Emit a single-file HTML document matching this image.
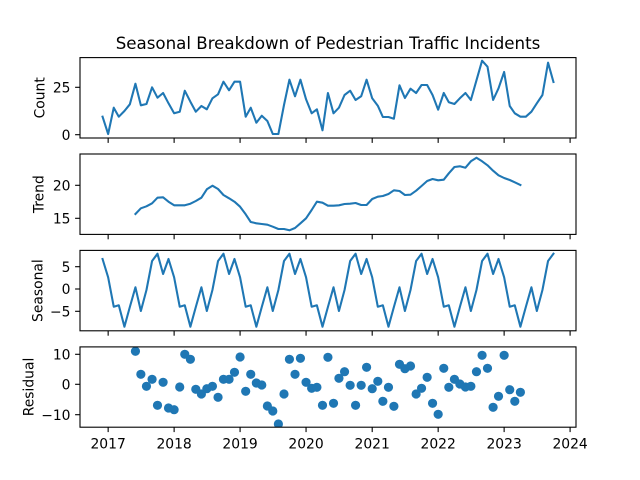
<!DOCTYPE html>
<html><head><meta charset="utf-8"><style>
html,body{margin:0;padding:0;background:#fff;}
svg{display:block;}
text{font-family:"DejaVu Sans","Liberation Sans",sans-serif;fill:#000;}
</style></head><body>
<svg width="640" height="480" viewBox="0 0 640 480" xmlns="http://www.w3.org/2000/svg">
<defs><clipPath id="c4"><rect x="80" y="346.9" width="496" height="80.3"/></clipPath></defs>
<rect width="640" height="480" fill="#fff"/>
<text x="328" y="49" font-size="16.67" text-anchor="middle">Seasonal Breakdown of Pedestrian Traffic Incidents</text>

<!-- Panel 1 -->
<polyline fill="none" stroke="#1f77b4" stroke-width="2.08" stroke-linejoin="round" stroke-linecap="square" points="102.55,116.7 108.15,134.0 113.75,107.7 118.81,116.7 124.42,111.0 129.84,104.3 135.44,83.7 140.86,105.3 146.46,104.0 152.07,87.3 157.49,97.7 163.09,93.0 168.51,103.3 174.12,113.3 179.72,111.7 184.78,90.7 190.39,101.7 195.81,111.7 201.41,106.0 206.83,109.3 212.43,98.3 218.04,94.3 223.46,81.7 229.06,90.3 234.48,81.7 240.08,81.7 245.68,116.7 250.74,107.7 256.35,122.7 261.77,115.7 267.37,121.0 272.79,134.0 278.39,134.0 284.00,105.0 289.42,79.7 295.02,96.3 300.44,79.7 306.05,99.3 311.65,113.3 316.89,109.3 322.50,130.3 327.92,93.0 333.52,113.3 338.94,107.7 344.54,95.0 350.15,90.7 355.57,100.0 361.17,96.3 366.59,79.7 372.20,98.3 377.80,105.7 382.86,117.0 388.47,117.0 393.89,118.7 399.49,85.3 404.91,98.0 410.51,88.7 416.12,93.0 421.54,85.0 427.14,85.0 432.56,95.0 438.16,109.7 443.76,93.0 448.82,102.3 454.43,104.0 459.85,98.3 465.45,93.0 470.87,100.0 476.47,80.3 482.08,60.7 487.50,66.7 493.10,100.0 498.52,88.3 504.13,72.0 509.73,106.0 514.79,113.3 520.40,116.7 525.82,116.7 531.42,111.7 536.84,103.3 542.44,95.0 548.05,62.7 553.47,82.0"/>
<rect x="80" y="57.6" width="496" height="80.4" fill="none" stroke="#000" stroke-width="1.1"/>
<g stroke="#000" stroke-width="1.1">
<line x1="75.1" y1="134.7" x2="80" y2="134.7"/><line x1="75.1" y1="87.3" x2="80" y2="87.3"/>
<line x1="108.15" y1="138" x2="108.15" y2="142.9"/><line x1="174.12" y1="138" x2="174.12" y2="142.9"/><line x1="240.08" y1="138" x2="240.08" y2="142.9"/><line x1="306.05" y1="138" x2="306.05" y2="142.9"/><line x1="372.2" y1="138" x2="372.2" y2="142.9"/><line x1="438.16" y1="138" x2="438.16" y2="142.9"/><line x1="504.13" y1="138" x2="504.13" y2="142.9"/><line x1="570.1" y1="138" x2="570.1" y2="142.9"/>
</g>
<g font-size="13.89" text-anchor="end">
<text x="70.5" y="139.8">0</text><text x="70.5" y="92.4">25</text>
</g>
<text transform="translate(44.5,97.8) rotate(-90)" font-size="13.89" text-anchor="middle">Count</text>

<!-- Panel 2 -->
<polyline fill="none" stroke="#1f77b4" stroke-width="2.08" stroke-linejoin="round" stroke-linecap="square" points="135.44,214.0 140.86,208.3 146.46,206.3 152.07,203.3 157.49,197.7 163.09,197.3 168.51,201.7 174.12,205.3 179.72,205.3 184.78,205.3 190.39,203.7 195.81,201.0 201.41,197.7 206.83,189.3 212.43,185.7 218.04,189.0 223.46,195.0 229.06,198.3 234.48,201.7 240.08,206.7 245.68,214.3 250.74,222.0 256.35,223.3 261.77,224.0 267.37,224.7 272.79,226.7 278.39,229.0 284.00,229.0 289.42,230.3 295.02,228.0 300.44,223.3 306.05,218.3 311.65,210.0 316.89,201.7 322.50,202.7 327.92,205.7 333.52,205.7 338.94,205.3 344.54,204.0 350.15,203.7 355.57,203.0 361.17,205.0 366.59,205.0 372.20,199.0 377.80,196.7 382.86,196.0 388.47,194.0 393.89,190.3 399.49,191.0 404.91,195.0 410.51,194.7 416.12,190.7 421.54,186.0 427.14,181.0 432.56,179.0 438.16,180.3 443.76,179.7 448.82,173.3 454.43,167.0 459.85,166.3 465.45,167.7 470.87,161.3 476.47,157.7 482.08,161.3 487.50,165.3 493.10,170.7 498.52,175.3 504.13,178.0 509.73,180.0 514.79,182.3 520.40,185.0"/>
<rect x="80" y="154.0" width="496" height="80.4" fill="none" stroke="#000" stroke-width="1.1"/>
<g stroke="#000" stroke-width="1.1">
<line x1="75.1" y1="185.3" x2="80" y2="185.3"/><line x1="75.1" y1="218.3" x2="80" y2="218.3"/>
<line x1="108.15" y1="234.4" x2="108.15" y2="239.3"/><line x1="174.12" y1="234.4" x2="174.12" y2="239.3"/><line x1="240.08" y1="234.4" x2="240.08" y2="239.3"/><line x1="306.05" y1="234.4" x2="306.05" y2="239.3"/><line x1="372.2" y1="234.4" x2="372.2" y2="239.3"/><line x1="438.16" y1="234.4" x2="438.16" y2="239.3"/><line x1="504.13" y1="234.4" x2="504.13" y2="239.3"/><line x1="570.1" y1="234.4" x2="570.1" y2="239.3"/>
</g>
<g font-size="13.89" text-anchor="end">
<text x="70.5" y="190.4">20</text><text x="70.5" y="223.4">15</text>
</g>
<text transform="translate(43.5,194.2) rotate(-90)" font-size="13.89" text-anchor="middle">Trend</text>

<!-- Panel 3 -->
<polyline fill="none" stroke="#1f77b4" stroke-width="2.08" stroke-linejoin="round" stroke-linecap="square" points="102.55,259.0 108.15,277.3 113.75,306.7 118.81,305.3 124.42,326.7 129.84,307.0 135.44,287.3 140.86,311.0 146.46,290.0 152.07,261.0 157.49,253.7 163.09,274.0 168.51,259.0 174.12,277.3 179.72,306.7 184.78,305.3 190.39,326.7 195.81,307.0 201.41,287.3 206.83,311.0 212.43,290.0 218.04,261.0 223.46,253.7 229.06,274.0 234.48,259.0 240.08,277.3 245.68,306.7 250.74,305.3 256.35,326.7 261.77,307.0 267.37,287.3 272.79,311.0 278.39,290.0 284.00,261.0 289.42,253.7 295.02,274.0 300.44,259.0 306.05,277.3 311.65,306.7 316.89,305.3 322.50,326.7 327.92,307.0 333.52,287.3 338.94,311.0 344.54,290.0 350.15,261.0 355.57,253.7 361.17,274.0 366.59,259.0 372.20,277.3 377.80,306.7 382.86,305.3 388.47,326.7 393.89,307.0 399.49,287.3 404.91,311.0 410.51,290.0 416.12,261.0 421.54,253.7 427.14,274.0 432.56,259.0 438.16,277.3 443.76,306.7 448.82,305.3 454.43,326.7 459.85,307.0 465.45,287.3 470.87,311.0 476.47,290.0 482.08,261.0 487.50,253.7 493.10,274.0 498.52,259.0 504.13,277.3 509.73,306.7 514.79,305.3 520.40,326.7 525.82,307.0 531.42,287.3 536.84,311.0 542.44,290.0 548.05,261.0 553.47,253.7"/>
<rect x="80" y="250.4" width="496" height="80.4" fill="none" stroke="#000" stroke-width="1.1"/>
<g stroke="#000" stroke-width="1.1">
<line x1="75.1" y1="266.7" x2="80" y2="266.7"/><line x1="75.1" y1="289" x2="80" y2="289"/><line x1="75.1" y1="311.3" x2="80" y2="311.3"/>
<line x1="108.15" y1="330.8" x2="108.15" y2="335.7"/><line x1="174.12" y1="330.8" x2="174.12" y2="335.7"/><line x1="240.08" y1="330.8" x2="240.08" y2="335.7"/><line x1="306.05" y1="330.8" x2="306.05" y2="335.7"/><line x1="372.2" y1="330.8" x2="372.2" y2="335.7"/><line x1="438.16" y1="330.8" x2="438.16" y2="335.7"/><line x1="504.13" y1="330.8" x2="504.13" y2="335.7"/><line x1="570.1" y1="330.8" x2="570.1" y2="335.7"/>
</g>
<g font-size="13.89" text-anchor="end">
<text x="70.5" y="271.8">5</text><text x="70.5" y="294.1">0</text><text x="70.5" y="316.4">−5</text>
</g>
<text transform="translate(42.5,290.6) rotate(-90)" font-size="13.89" text-anchor="middle">Seasonal</text>

<!-- Panel 4 -->
<g fill="#1f77b4" clip-path="url(#c4)">
<circle cx="135.44" cy="351.3" r="4.6"/><circle cx="140.86" cy="374.3" r="4.6"/><circle cx="146.46" cy="386.3" r="4.6"/><circle cx="152.07" cy="379.3" r="4.6"/><circle cx="157.49" cy="405.3" r="4.6"/><circle cx="163.09" cy="382.3" r="4.6"/><circle cx="168.51" cy="408.0" r="4.6"/><circle cx="174.12" cy="409.7" r="4.6"/><circle cx="179.72" cy="387.0" r="4.6"/><circle cx="184.78" cy="354.3" r="4.6"/><circle cx="190.39" cy="359.3" r="4.6"/><circle cx="195.81" cy="389.3" r="4.6"/><circle cx="201.41" cy="394.0" r="4.6"/><circle cx="206.83" cy="388.7" r="4.6"/><circle cx="212.43" cy="386.3" r="4.6"/><circle cx="218.04" cy="397.3" r="4.6"/><circle cx="223.46" cy="379.3" r="4.6"/><circle cx="229.06" cy="379.3" r="4.6"/><circle cx="234.48" cy="372.3" r="4.6"/><circle cx="240.08" cy="357.0" r="4.6"/><circle cx="245.68" cy="391.3" r="4.6"/><circle cx="250.74" cy="374.3" r="4.6"/><circle cx="256.35" cy="383.0" r="4.6"/><circle cx="261.77" cy="385.0" r="4.6"/><circle cx="267.37" cy="406.0" r="4.6"/><circle cx="272.79" cy="411.0" r="4.6"/><circle cx="278.39" cy="424.0" r="4.6"/><circle cx="284.00" cy="394.0" r="4.6"/><circle cx="289.42" cy="359.3" r="4.6"/><circle cx="295.02" cy="374.3" r="4.6"/><circle cx="300.44" cy="358.3" r="4.6"/><circle cx="306.05" cy="382.3" r="4.6"/><circle cx="311.65" cy="388.3" r="4.6"/><circle cx="316.89" cy="387.3" r="4.6"/><circle cx="322.50" cy="405.3" r="4.6"/><circle cx="327.92" cy="357.3" r="4.6"/><circle cx="333.52" cy="403.3" r="4.6"/><circle cx="338.94" cy="378.3" r="4.6"/><circle cx="344.54" cy="371.7" r="4.6"/><circle cx="350.15" cy="385.3" r="4.6"/><circle cx="355.57" cy="405.3" r="4.6"/><circle cx="361.17" cy="385.3" r="4.6"/><circle cx="366.59" cy="367.3" r="4.6"/><circle cx="372.20" cy="388.7" r="4.6"/><circle cx="377.80" cy="381.3" r="4.6"/><circle cx="382.86" cy="401.3" r="4.6"/><circle cx="388.47" cy="387.3" r="4.6"/><circle cx="393.89" cy="406.3" r="4.6"/><circle cx="399.49" cy="364.3" r="4.6"/><circle cx="404.91" cy="368.7" r="4.6"/><circle cx="410.51" cy="366.0" r="4.6"/><circle cx="416.12" cy="394.0" r="4.6"/><circle cx="421.54" cy="388.3" r="4.6"/><circle cx="427.14" cy="377.3" r="4.6"/><circle cx="432.56" cy="403.3" r="4.6"/><circle cx="438.16" cy="414.3" r="4.6"/><circle cx="443.76" cy="368.3" r="4.6"/><circle cx="448.82" cy="387.3" r="4.6"/><circle cx="454.43" cy="379.3" r="4.6"/><circle cx="459.85" cy="384.0" r="4.6"/><circle cx="465.45" cy="387.0" r="4.6"/><circle cx="470.87" cy="386.3" r="4.6"/><circle cx="476.47" cy="371.7" r="4.6"/><circle cx="482.08" cy="355.3" r="4.6"/><circle cx="487.50" cy="368.3" r="4.6"/><circle cx="493.10" cy="407.3" r="4.6"/><circle cx="498.52" cy="396.3" r="4.6"/><circle cx="504.13" cy="355.3" r="4.6"/><circle cx="509.73" cy="389.7" r="4.6"/><circle cx="514.79" cy="401.3" r="4.6"/><circle cx="520.40" cy="392.3" r="4.6"/>
</g>
<rect x="80" y="346.9" width="496" height="80.3" fill="none" stroke="#000" stroke-width="1.1"/>
<g stroke="#000" stroke-width="1.1">
<line x1="75.1" y1="354.3" x2="80" y2="354.3"/><line x1="75.1" y1="384.3" x2="80" y2="384.3"/><line x1="75.1" y1="414.7" x2="80" y2="414.7"/>
<line x1="108.15" y1="427.2" x2="108.15" y2="432.1"/><line x1="174.12" y1="427.2" x2="174.12" y2="432.1"/><line x1="240.08" y1="427.2" x2="240.08" y2="432.1"/><line x1="306.05" y1="427.2" x2="306.05" y2="432.1"/><line x1="372.2" y1="427.2" x2="372.2" y2="432.1"/><line x1="438.16" y1="427.2" x2="438.16" y2="432.1"/><line x1="504.13" y1="427.2" x2="504.13" y2="432.1"/><line x1="570.1" y1="427.2" x2="570.1" y2="432.1"/>
</g>
<g font-size="13.89" text-anchor="end">
<text x="70.5" y="359.4">10</text><text x="70.5" y="389.4">0</text><text x="70.5" y="419.8">−10</text>
</g>
<text transform="translate(33.5,387) rotate(-90)" font-size="13.89" text-anchor="middle">Residual</text>
<g font-size="13.89" text-anchor="middle">
<text x="108.15" y="448.6">2017</text><text x="174.12" y="448.6">2018</text><text x="240.08" y="448.6">2019</text><text x="306.05" y="448.6">2020</text><text x="372.2" y="448.6">2021</text><text x="438.16" y="448.6">2022</text><text x="504.13" y="448.6">2023</text><text x="570.1" y="448.6">2024</text>
</g>
</svg>
</body></html>
